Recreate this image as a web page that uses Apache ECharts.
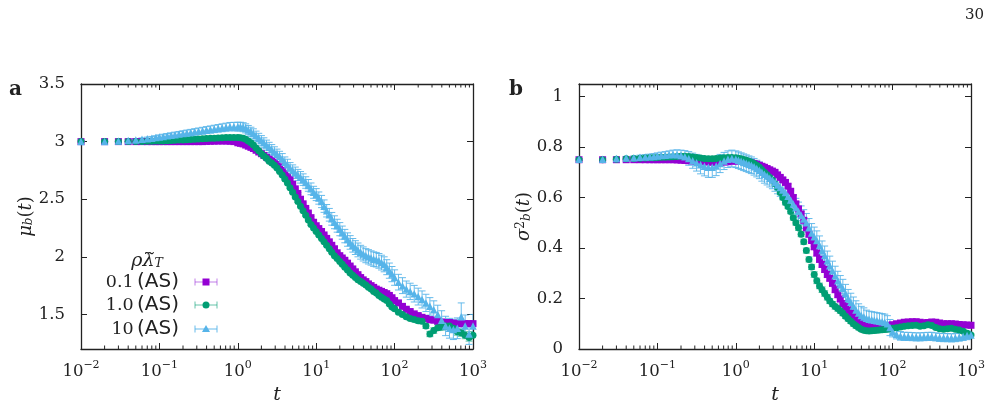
<!DOCTYPE html>
<html><head><meta charset="utf-8">
<script src="https://cdn.jsdelivr.net/npm/echarts@6/dist/echarts.min.js"></script>
<style>html,body{margin:0;padding:0;background:#fff}#c{width:1004px;height:410px}</style>
</head><body><div id="c"></div>
<script>
// time grid
const T = [0.01,0.02,0.03,0.04,0.05,0.06,0.07,0.08,0.09,
0.1,0.112,0.126,0.141,0.158,0.178,0.2,0.224,0.251,0.282,0.316,0.355,0.398,0.447,0.501,0.562,0.631,0.708,0.794,0.891,
1,1.08,1.17,1.26,1.36,1.47,1.58,1.71,1.85,2,2.15,2.32,2.51,2.71,2.93,3.16,3.41,3.69,3.98,4.3,4.64,5.01,5.41,5.84,6.31,6.81,7.36,7.94,8.58,9.26,
10,10.8,11.7,12.6,13.6,14.7,15.8,17.1,18.5,20,21.5,23.2,25.1,27.1,29.3,31.6,34.1,36.9,39.8,43,46.4,50.1,54.1,58.4,63.1,68.1,73.6,79.4,85.8,92.6,
100,112,126,141,158,178,200,224,251,282,316,355,398,447,501,562,631,708,794,891,1000];

const seriesNames = ['0.1', '1.0', '10'];

// panel a : mu_b(t)
const muA = [3,3,3,3,3,3,3,3,3,
3,3,3,3,3,3,3,3,3,3,3,3,3.002,3.003,3.004,3.005,3.005,3.005,3.003,3,
2.99,2.985,2.98,2.97,2.96,2.95,2.94,2.925,2.91,2.895,2.88,2.865,2.85,2.835,2.82,2.80,2.78,2.75,2.72,2.695,2.67,2.63,2.59,2.55,2.50,2.46,2.42,2.38,2.34,2.30,
2.27,2.245,2.22,2.19,2.16,2.13,2.10,2.07,2.035,2.01,1.99,1.97,1.945,1.92,1.895,1.87,1.845,1.82,1.80,1.785,1.765,1.75,1.735,1.72,1.71,1.70,1.69,1.68,1.665,1.645,
1.62,1.60,1.57,1.545,1.525,1.505,1.49,1.475,1.465,1.455,1.45,1.44,1.435,1.43,1.43,1.425,1.42,1.42,1.42,1.42,1.42];
const muAerr = [0.003,0.003,0.003,0.003,0.003,0.003,0.003,0.003,0.003,
0.004,0.004,0.004,0.004,0.004,0.004,0.004,0.004,0.004,0.004,0.004,0.004,0.004,0.004,0.004,0.004,0.004,0.004,0.004,0.004,
0.005,0.005,0.005,0.005,0.005,0.005,0.005,0.006,0.006,0.006,0.006,0.006,0.006,0.006,0.006,0.007,0.007,0.007,0.007,0.007,0.007,0.007,0.007,0.008,0.008,0.008,0.008,0.008,0.008,0.008,
0.008,0.008,0.008,0.008,0.008,0.008,0.008,0.008,0.008,0.008,0.009,0.009,0.009,0.009,0.009,0.009,0.009,0.009,0.009,0.009,0.01,0.01,0.01,0.01,0.01,0.01,0.01,0.01,0.01,0.01,
0.012,0.012,0.013,0.013,0.014,0.014,0.015,0.015,0.016,0.016,0.017,0.017,0.018,0.018,0.019,0.019,0.02,0.02,0.021,0.021,0.022];
const muB = [3,3,3,3,3,3.002,3.003,3.004,3.005,
3.005,3.006,3.008,3.01,3.011,3.013,3.015,3.017,3.019,3.021,3.023,3.025,3.027,3.029,3.03,3.032,3.033,3.035,3.036,3.036,
3.036,3.034,3.03,3.02,3.005,2.99,2.97,2.945,2.92,2.895,2.875,2.855,2.83,2.815,2.795,2.77,2.74,2.71,2.675,2.64,2.60,2.56,2.52,2.48,2.44,2.40,2.36,2.32,2.28,2.25,
2.22,2.19,2.16,2.13,2.10,2.07,2.04,2.01,1.985,1.96,1.935,1.91,1.885,1.86,1.84,1.82,1.80,1.785,1.77,1.755,1.735,1.72,1.70,1.685,1.665,1.65,1.635,1.62,1.59,1.565,
1.55,1.52,1.50,1.48,1.465,1.455,1.445,1.44,1.40,1.33,1.36,1.385,1.39,1.40,1.40,1.38,1.35,1.34,1.32,1.30,1.32];
const muBerr = [0.003,0.003,0.003,0.003,0.003,0.003,0.003,0.003,0.003,
0.004,0.004,0.004,0.004,0.004,0.004,0.004,0.004,0.004,0.004,0.004,0.004,0.004,0.004,0.004,0.004,0.004,0.004,0.004,0.004,
0.005,0.005,0.005,0.005,0.005,0.005,0.005,0.006,0.006,0.006,0.006,0.006,0.006,0.006,0.006,0.007,0.007,0.007,0.007,0.007,0.007,0.007,0.007,0.008,0.008,0.008,0.008,0.008,0.008,0.008,
0.008,0.008,0.008,0.008,0.008,0.008,0.008,0.008,0.008,0.008,0.009,0.009,0.009,0.009,0.009,0.009,0.009,0.009,0.009,0.009,0.01,0.01,0.01,0.01,0.01,0.01,0.01,0.01,0.01,0.01,
0.014,0.015,0.016,0.017,0.018,0.019,0.02,0.021,0.022,0.023,0.024,0.025,0.026,0.027,0.028,0.029,0.03,0.03,0.031,0.032,0.032];
const muC = [3,3,3.005,3.01,3.015,3.02,3.025,3.03,3.035,
3.04,3.045,3.05,3.055,3.06,3.065,3.07,3.075,3.08,3.085,3.09,3.095,3.10,3.105,3.11,3.115,3.12,3.125,3.13,3.13,
3.13,3.13,3.125,3.115,3.10,3.085,3.07,3.05,3.03,3.01,2.99,2.97,2.95,2.93,2.91,2.89,2.87,2.85,2.82,2.80,2.77,2.75,2.73,2.71,2.69,2.67,2.645,2.62,2.59,2.56,
2.54,2.51,2.48,2.44,2.40,2.365,2.33,2.30,2.27,2.24,2.21,2.18,2.15,2.125,2.10,2.08,2.06,2.04,2.025,2.01,2.00,1.99,1.98,1.975,1.965,1.95,1.935,1.91,1.88,1.85,
1.82,1.78,1.75,1.72,1.70,1.68,1.655,1.63,1.60,1.57,1.54,1.50,1.45,1.40,1.38,1.37,1.38,1.48,1.40,1.33,1.40];
const muCerr = [0.003,0.004,0.006,0.008,0.01,0.012,0.014,0.015,0.016,
0.018,0.019,0.02,0.021,0.022,0.023,0.024,0.025,0.026,0.027,0.028,0.029,0.03,0.031,0.032,0.033,0.034,0.035,0.036,0.037,
0.038,0.038,0.039,0.039,0.04,0.04,0.041,0.041,0.042,0.042,0.043,0.043,0.044,0.044,0.045,0.045,0.046,0.046,0.047,0.047,0.048,0.048,0.049,0.049,0.05,0.05,0.05,0.051,0.051,0.052,
0.052,0.053,0.053,0.054,0.054,0.055,0.055,0.056,0.056,0.057,0.057,0.058,0.058,0.059,0.059,0.06,0.06,0.06,0.061,0.061,0.062,0.062,0.063,0.063,0.064,0.064,0.065,0.065,0.066,0.066,
0.067,0.068,0.069,0.07,0.071,0.072,0.073,0.074,0.075,0.076,0.078,0.08,0.082,0.084,0.086,0.088,0.09,0.12,0.095,0.09,0.1];

// panel b : sigma_b^2(t)
const sgA = [0.75,0.75,0.75,0.75,0.75,0.75,0.75,0.75,0.75,
0.75,0.75,0.75,0.75,0.75,0.749,0.748,0.747,0.746,0.745,0.744,0.743,0.742,0.741,0.74,0.74,0.74,0.741,0.742,0.744,
0.745,0.745,0.744,0.743,0.742,0.74,0.738,0.735,0.732,0.728,0.724,0.72,0.715,0.71,0.705,0.70,0.69,0.68,0.67,0.66,0.645,0.625,0.60,0.575,0.555,0.535,0.51,0.48,0.455,0.43,
0.405,0.38,0.355,0.335,0.315,0.295,0.28,0.26,0.235,0.215,0.198,0.18,0.168,0.155,0.143,0.133,0.123,0.113,0.105,0.1,0.096,0.093,0.09,0.088,0.087,0.087,0.088,0.09,0.092,0.094,
0.096,0.1,0.103,0.106,0.107,0.108,0.108,0.106,0.104,0.105,0.107,0.106,0.103,0.1,0.1,0.1,0.099,0.097,0.096,0.095,0.094];
const sgAerr = [0.003,0.003,0.003,0.003,0.003,0.003,0.003,0.003,0.003,
0.004,0.004,0.004,0.004,0.004,0.004,0.004,0.004,0.004,0.004,0.005,0.005,0.005,0.005,0.005,0.005,0.005,0.005,0.005,0.005,
0.006,0.006,0.006,0.006,0.006,0.006,0.007,0.007,0.007,0.007,0.007,0.007,0.008,0.008,0.008,0.008,0.008,0.008,0.009,0.009,0.009,0.009,0.009,0.009,0.01,0.01,0.01,0.01,0.01,0.01,
0.011,0.011,0.011,0.011,0.011,0.011,0.01,0.01,0.01,0.01,0.01,0.01,0.009,0.009,0.009,0.009,0.009,0.009,0.008,0.008,0.008,0.008,0.008,0.008,0.007,0.007,0.007,0.007,0.007,0.007,
0.007,0.007,0.007,0.007,0.007,0.007,0.007,0.007,0.007,0.007,0.007,0.007,0.007,0.007,0.007,0.007,0.007,0.007,0.007,0.007,0.007];
const sgB = [0.75,0.75,0.752,0.754,0.755,0.756,0.757,0.758,0.758,
0.759,0.76,0.76,0.761,0.762,0.763,0.764,0.764,0.763,0.761,0.759,0.757,0.755,0.754,0.754,0.755,0.757,0.758,0.759,0.759,
0.758,0.756,0.754,0.751,0.748,0.744,0.74,0.735,0.728,0.72,0.71,0.70,0.69,0.68,0.67,0.655,0.64,0.62,0.60,0.58,0.565,0.545,0.52,0.50,0.48,0.455,0.425,0.39,0.355,0.325,
0.295,0.27,0.25,0.235,0.22,0.205,0.19,0.178,0.168,0.16,0.152,0.142,0.13,0.12,0.11,0.1,0.092,0.085,0.078,0.074,0.072,0.071,0.072,0.073,0.074,0.075,0.076,0.077,0.078,0.08,
0.082,0.084,0.087,0.09,0.092,0.093,0.094,0.09,0.092,0.096,0.093,0.085,0.08,0.078,0.08,0.082,0.078,0.075,0.07,0.062,0.055];
const sgBerr = [0.003,0.003,0.003,0.003,0.003,0.003,0.003,0.003,0.003,
0.004,0.004,0.004,0.004,0.004,0.004,0.004,0.004,0.004,0.004,0.005,0.005,0.005,0.005,0.005,0.005,0.005,0.005,0.005,0.005,
0.006,0.006,0.006,0.006,0.006,0.006,0.007,0.007,0.007,0.007,0.007,0.007,0.008,0.008,0.008,0.008,0.008,0.008,0.009,0.009,0.009,0.009,0.009,0.009,0.01,0.01,0.01,0.01,0.01,0.01,
0.011,0.011,0.011,0.011,0.011,0.011,0.01,0.01,0.01,0.01,0.01,0.01,0.009,0.009,0.009,0.009,0.009,0.009,0.008,0.008,0.008,0.008,0.008,0.008,0.007,0.007,0.007,0.007,0.007,0.007,
0.007,0.007,0.007,0.007,0.007,0.007,0.007,0.007,0.007,0.007,0.007,0.007,0.007,0.007,0.007,0.007,0.007,0.007,0.007,0.007,0.007];
const sgC = [0.752,0.752,0.755,0.757,0.758,0.76,0.761,0.762,0.763,
0.765,0.767,0.768,0.77,0.771,0.77,0.767,0.762,0.755,0.746,0.738,0.73,0.724,0.72,0.72,0.725,0.735,0.745,0.752,0.755,
0.752,0.748,0.744,0.74,0.736,0.732,0.728,0.722,0.715,0.708,0.70,0.692,0.685,0.677,0.67,0.66,0.65,0.64,0.63,0.62,0.605,0.59,0.575,0.56,0.545,0.53,0.515,0.50,0.48,0.46,
0.445,0.43,0.41,0.39,0.37,0.35,0.33,0.31,0.29,0.27,0.255,0.24,0.22,0.20,0.185,0.17,0.155,0.143,0.133,0.127,0.122,0.118,0.116,0.114,0.112,0.11,0.108,0.106,0.1,0.085,
0.068,0.058,0.052,0.05,0.05,0.049,0.048,0.048,0.049,0.05,0.05,0.048,0.046,0.045,0.045,0.044,0.045,0.047,0.05,0.053,0.055];
const sgCerr = [0.003,0.004,0.005,0.006,0.007,0.008,0.009,0.01,0.011,
0.012,0.013,0.014,0.015,0.017,0.019,0.021,0.024,0.027,0.03,0.033,0.036,0.038,0.04,0.04,0.038,0.036,0.034,0.033,0.033,
0.033,0.033,0.033,0.033,0.033,0.033,0.033,0.033,0.033,0.033,0.035,0.035,0.035,0.035,0.035,0.035,0.035,0.035,0.035,0.035,0.037,0.037,0.037,0.037,0.037,0.037,0.037,0.037,0.037,0.037,
0.038,0.038,0.038,0.038,0.038,0.038,0.038,0.038,0.038,0.038,0.036,0.036,0.036,0.036,0.036,0.036,0.036,0.036,0.036,0.036,0.032,0.032,0.032,0.032,0.032,0.032,0.032,0.032,0.032,0.032,
0.02,0.018,0.017,0.016,0.016,0.016,0.016,0.016,0.016,0.016,0.016,0.016,0.016,0.016,0.016,0.016,0.016,0.016,0.016,0.016,0.016];

const yTicksA = [1.5, 2, 2.5, 3, 3.5];
const yTicksB = [0, 0.2, 0.4, 0.6, 0.8, 1];
const minorT = [];
for (let e = -2; e < 3; e++) for (let m = 2; m <= 9; m++) minorT.push(+(m * Math.pow(10, e)).toPrecision(3));

const COLORS = ['#9400D3', '#009E73', '#56B4E9'];
const ERRCOL = ['rgba(160,60,220,0.65)', 'rgba(0,158,115,0.6)', 'rgba(86,180,233,0.9)'];
const SYMS = ['rect', 'circle', 'triangle'];
const SERIF = "'DejaVu Serif', serif";
const SANS = "'DejaVu Sans', sans-serif";
const INK = '#222';

const chart = echarts.init(document.getElementById('c'), null, {renderer: 'canvas'});

function supNum(v) {
  const e = Math.round(Math.log10(v));
  return '{b|10}{s|' + (e < 0 ? '\u2212' + (-e) : e) + '}';
}
const richExp = {
  b: {fontFamily: SERIF, fontSize: 16.5, color: INK, lineHeight: 24, verticalAlign: 'middle'},
  s: {fontFamily: SERIF, fontSize: 11, color: INK, lineHeight: 11, verticalAlign: 'top'}
};

function xAxis(grid, pos, labels) {
  return {
    type: 'log', logBase: 10, min: 0.01, max: 1000, gridIndex: grid, position: pos,
    axisLine: {show: true, onZero: false, lineStyle: {color: INK, width: 1.3}},
    axisTick: {show: true, inside: true, length: 6, lineStyle: {color: INK, width: 1}},
    axisLabel: {show: labels, margin: 11, formatter: supNum, rich: richExp},
    splitLine: {show: false},
    name: labels ? 't' : '', nameLocation: 'middle', nameGap: 37,
    nameTextStyle: {fontFamily: SERIF, fontStyle: 'italic', fontSize: 19, color: INK}
  };
}
function yAxis(grid, pos, labels, min, max, ticks, name, nameRich) {
  return {
    type: 'value', min: min, max: max, gridIndex: grid, position: pos,
    axisLine: {show: true, onZero: false, lineStyle: {color: INK, width: 1.3}},
    axisTick: {show: true, inside: true, length: 6, customValues: ticks, lineStyle: {color: INK, width: 1}},
    axisLabel: {show: labels, customValues: ticks, margin: 16, fontFamily: SERIF, fontSize: 16.5, color: INK},
    splitLine: {show: false},
    name: labels ? name : '', nameLocation: 'middle', nameGap: 38, nameRotate: 90,
    nameTextStyle: {rich: nameRich}
  };
}
const nameRich = {
  i: {fontFamily: SERIF, fontStyle: 'italic', fontSize: 18, color: INK},
  r: {fontFamily: SERIF, fontSize: 18, color: INK},
  sub: {fontFamily: SERIF, fontStyle: 'italic', fontSize: 12, color: INK, verticalAlign: 'bottom', lineHeight: 12},
  sup: {fontFamily: SERIF, fontSize: 12, color: INK, verticalAlign: 'top', lineHeight: 12}
};

function minorSeries(xi, ymin, ymax) {
  return {
    type: 'custom', xAxisIndex: xi, yAxisIndex: xi * 2, silent: true, clip: false, z: 5,
    data: minorT.map(t => [t, ymin]),
    renderItem: (p, api) => {
      const t = api.value(0);
      const b = api.coord([t, ymin]), u = api.coord([t, ymax]);
      const st = {stroke: INK, lineWidth: 1};
      return {type: 'group', children: [
        {type: 'line', shape: {x1: b[0], y1: b[1], x2: b[0], y2: b[1] - 3.5}, style: st},
        {type: 'line', shape: {x1: u[0], y1: u[1], x2: u[0], y2: u[1] + 3.5}, style: st}
      ]};
    }
  };
}
function errSeries(xi, vals, errs, k) {
  return {
    type: 'custom', xAxisIndex: xi, yAxisIndex: xi * 2, silent: true, clip: true,
    data: T.map((t, i) => [t, vals[i], errs[i]]),
    renderItem: (p, api) => {
      const t = api.value(0), v = api.value(1), e = api.value(2);
      const a = api.coord([t, v + e]), b = api.coord([t, v - e]);
      const st = {stroke: ERRCOL[k], lineWidth: 1};
      const w = 3.5;
      return {type: 'group', children: [
        {type: 'line', shape: {x1: a[0], y1: a[1], x2: b[0], y2: b[1]}, style: st},
        {type: 'line', shape: {x1: a[0] - w, y1: a[1], x2: a[0] + w, y2: a[1]}, style: st},
        {type: 'line', shape: {x1: b[0] - w, y1: b[1], x2: b[0] + w, y2: b[1]}, style: st}
      ]};
    }
  };
}
function ptSeries(xi, vals, k) {
  return {
    type: 'scatter', name: seriesNames[k], xAxisIndex: xi, yAxisIndex: xi * 2,
    data: T.map((t, i) => [t, vals[i]]),
    symbol: SYMS[k], symbolSize: k === 2 ? 7.5 : 7,
    itemStyle: {color: COLORS[k], opacity: 1}, silent: true, clip: true
  };
}

const series = [minorSeries(0, 1.2, 3.5), minorSeries(1, 0, 1.05)];
[[muA, muAerr], [muB, muBerr], [muC, muCerr]].forEach((d, k) => {
  series.push(errSeries(0, d[0], d[1], k)); series.push(ptSeries(0, d[0], k));
});
[[sgA, sgAerr], [sgB, sgBerr], [sgC, sgCerr]].forEach((d, k) => {
  series.push(errSeries(1, d[0], d[1], k)); series.push(ptSeries(1, d[0], k));
});

// legend (drawn as graphic, inside panel a)
const legendRows = [];
const legY = [282, 305, 329];
seriesNames.forEach((n, k) => {
  const y = legY[k], cx = 206;
  legendRows.push({type: 'text', x: 179, y: y, style: {
    text: '{n|' + n + '} {s|(AS)}', align: 'right', verticalAlign: 'middle',
    rich: {n: {fontFamily: SERIF, fontSize: 17.5, fill: INK}, s: {fontFamily: SANS, fontSize: 20, fill: INK}}
  }});
  const st = {stroke: ERRCOL[k], lineWidth: 1};
  legendRows.push({type: 'line', shape: {x1: cx - 11, y1: y, x2: cx + 11, y2: y}, style: st});
  legendRows.push({type: 'line', shape: {x1: cx - 11, y1: y - 3.5, x2: cx - 11, y2: y + 3.5}, style: st});
  legendRows.push({type: 'line', shape: {x1: cx + 11, y1: y - 3.5, x2: cx + 11, y2: y + 3.5}, style: st});
  if (k === 0) legendRows.push({type: 'rect', shape: {x: cx - 3.5, y: y - 3.5, width: 7, height: 7}, style: {fill: COLORS[k]}});
  if (k === 1) legendRows.push({type: 'circle', shape: {cx: cx, cy: y, r: 3.5}, style: {fill: COLORS[k]}});
  if (k === 2) legendRows.push({type: 'polygon', shape: {points: [[cx, y - 4], [cx + 4, y + 3], [cx - 4, y + 3]]}, style: {fill: COLORS[k]}});
});

const option = {
  animation: false,
  backgroundColor: '#fff',
  grid: [
    {left: 81, top: 84, width: 392, height: 265},
    {left: 579, top: 84, width: 392, height: 265}
  ],
  xAxis: [xAxis(0, 'bottom', true), xAxis(1, 'bottom', true), xAxis(0, 'top', false), xAxis(1, 'top', false)],
  yAxis: [
    yAxis(0, 'left', true, 1.2, 3.5, yTicksA, '{i|\u03bc}{sub|b}{r|(}{i|t}{r|)}', nameRich),
    yAxis(0, 'right', false, 1.2, 3.5, yTicksA, '', nameRich),
    yAxis(1, 'left', true, 0, 1.05, yTicksB, '{i|\u03c3}{sup|2}{sub|b}{r|(}{i|t}{r|)}', nameRich),
    yAxis(1, 'right', false, 0, 1.05, yTicksB, '', nameRich)
  ],
  series: series,
  graphic: [
    {type: 'text', x: 984, y: 15, style: {text: '30', font: '15px ' + SERIF, fill: INK, align: 'right', verticalAlign: 'middle'}},
    {type: 'text', x: 9, y: 90, style: {text: 'a', font: 'bold 20px ' + SERIF, fill: INK, verticalAlign: 'middle'}},
    {type: 'text', x: 509, y: 90, style: {text: 'b', font: 'bold 20px ' + SERIF, fill: INK, verticalAlign: 'middle'}},
    {type: 'text', x: 147, y: 261, style: {text: '{i|\u03c1\u03bb\u0303}{sub|T}', align: 'center', verticalAlign: 'middle',
      rich: {i: {fontFamily: SERIF, fontStyle: 'italic', fontSize: 19, fill: INK}, sub: {fontFamily: SERIF, fontStyle: 'italic', fontSize: 12.5, fill: INK, verticalAlign: 'bottom', lineHeight: 12}}}},
    {type: 'group', children: legendRows}
  ]
};
chart.setOption(option);
</script></body></html>
